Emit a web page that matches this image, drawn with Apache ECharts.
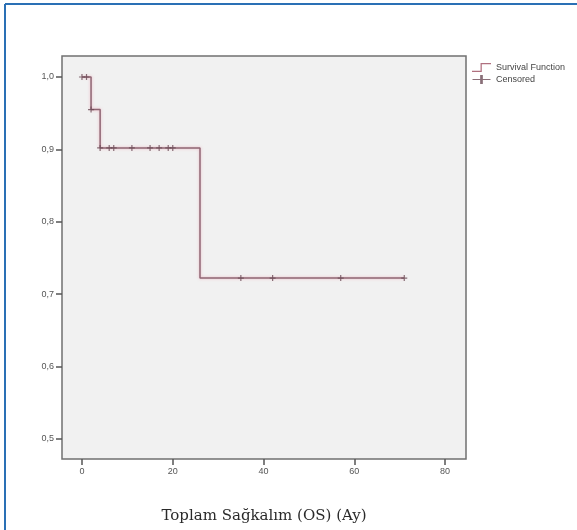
<!DOCTYPE html>
<html>
<head>
<meta charset="utf-8">
<script src="https://cdn.jsdelivr.net/npm/echarts@6/dist/echarts.min.js"></script>
<style>
    html, body { margin: 0; padding: 0; background: #fff; }
    #chart { width: 577px; height: 530px; }
</style>
</head>
<body>
<div id="chart"></div>
<script>
    // Kaplan-Meier adimlari (ay, sagkalim)
    var stepTimes = [0, 2, 4, 26, 71];
    var stepSurvival = [1.0, 0.955, 0.902, 0.722, 0.722];
    // censored vakalar
    var censorTimes = [0, 1, 2, 4, 6, 7, 11, 15, 17, 19, 20, 35, 42, 57, 71];
    var censorSurvival = [1.0, 1.0, 0.955, 0.902, 0.902, 0.902, 0.902, 0.902, 0.902, 0.902, 0.902, 0.722, 0.722, 0.722, 0.722];
    var xTicks = [0, 20, 40, 60, 80];
    var yTicks = [0.5, 0.6, 0.7, 0.8, 0.9, 1.0];

    var plusIcon = 'path://M4,0H6V4H10V6H6V10H4V6H0V4H4Z';

    var chart = echarts.init(document.getElementById('chart'));
    chart.setOption({
        animation: false,
        backgroundColor: '#fff',
        graphic: [
            { type: 'line', shape: { x1: 5, y1: 4, x2: 577, y2: 4 }, style: { stroke: '#2a70b5', lineWidth: 2 } },
            { type: 'line', shape: { x1: 5, y1: 4, x2: 5, y2: 530 }, style: { stroke: '#2a70b5', lineWidth: 2 } }
        ],
        grid: {
            left: 62, top: 56, right: 111, bottom: 71,
            show: true,
            backgroundColor: '#f1f1f1',
            borderColor: '#707070',
            borderWidth: 1.5
        },
        legend: {
            orient: 'vertical',
            left: 467,
            top: 58,
            itemWidth: 19,
            itemHeight: 9,
            itemGap: 3,
            textStyle: { fontSize: 9, color: '#444', fontFamily: 'Liberation Sans' },
            data: [
                { name: 'Survival Function', icon: 'path://M0,8H9V0H20V1.3H10.3V9.3H0Z' },
                { name: 'Censored', icon: 'path://M0,4.4H8.5V0H11.5V4.4H20V5.6H11.5V10H8.5V5.6H0Z' }
            ]
        },
        xAxis: {
            type: 'value',
            min: -4.4,
            max: 84.6,
            name: 'Toplam Sağkalım (OS) (Ay)',
            nameLocation: 'middle',
            nameGap: 50,
            nameTextStyle: { fontFamily: 'DejaVu Serif', fontSize: 15, color: '#2a2a2a' },
            splitLine: { show: false },
            axisLine: { show: false, onZero: false },
            axisTick: { show: true, customValues: xTicks, length: 6, lineStyle: { color: '#555', width: 1.5 } },
            axisLabel: { customValues: xTicks, fontSize: 9, color: '#555', margin: 8, fontFamily: 'Liberation Sans' }
        },
        yAxis: {
            type: 'value',
            min: 0.472,
            max: 1.029,
            splitLine: { show: false },
            axisLine: { show: false, onZero: false },
            axisTick: { show: true, customValues: yTicks, length: 6, lineStyle: { color: '#555', width: 1.5 } },
            axisLabel: {
                customValues: yTicks, fontSize: 9, color: '#555', margin: 8, fontFamily: 'Liberation Sans',
                formatter: function (v) { return v.toFixed(1).replace('.', ','); }
            }
        },
        series: [
            {
                name: 'Survival Function',
                type: 'line',
                step: 'end',
                showSymbol: false,
                color: '#b0707f',
                lineStyle: { color: '#8f6673', width: 1.5, shadowColor: 'rgba(235,150,170,0.7)', shadowBlur: 3 },
                data: stepTimes.map(function (t, i) { return [t, stepSurvival[i]]; }),
                z: 2
            },
            {
                name: 'Censored',
                type: 'scatter',
                symbol: plusIcon,
                symbolSize: 6,
                color: '#b0707f',
                itemStyle: { color: '#6b4b56' },
                data: censorTimes.map(function (t, i) { return [t, censorSurvival[i]]; }),
                z: 3
            }
        ]
    });
</script>
</body>
</html>
